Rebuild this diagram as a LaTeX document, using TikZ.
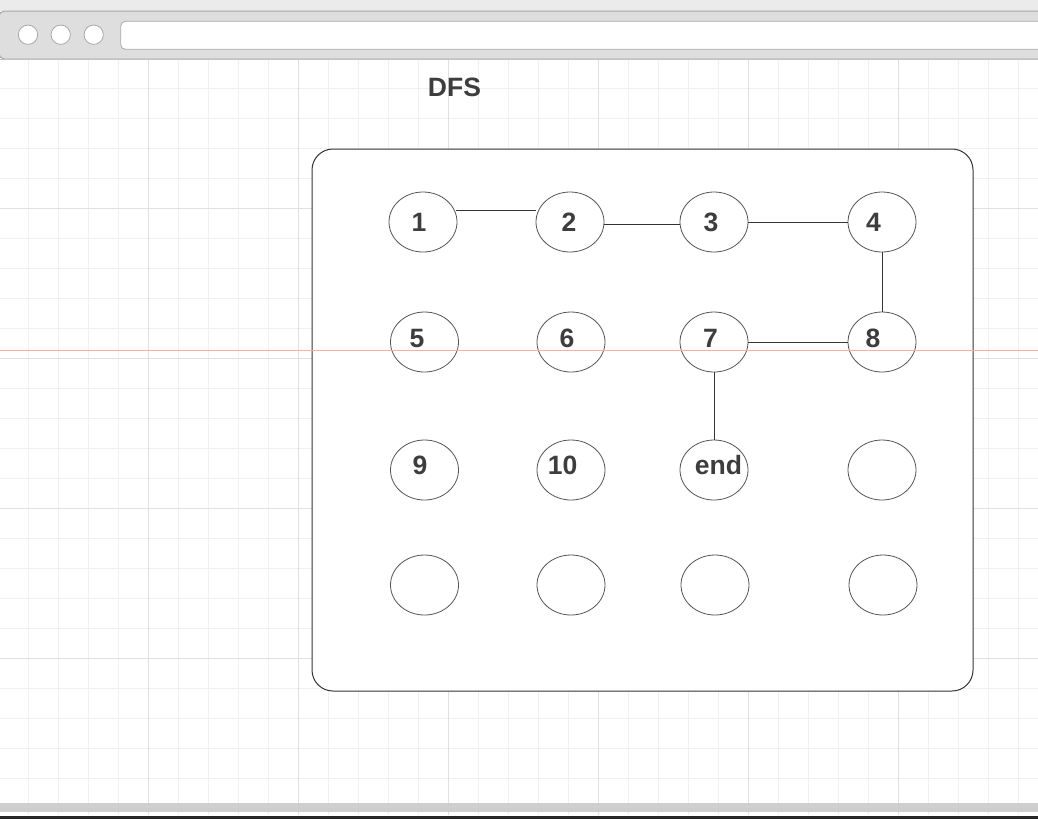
\documentclass[tikz,border=0pt]{standalone}
\usepackage{fontspec}
\setmainfont{Liberation Sans}
\usetikzlibrary{shapes.geometric}
\definecolor{topbg}{HTML}{EBEBEB}
\definecolor{framefill}{HTML}{DEDEDE}
\definecolor{framedraw}{HTML}{A8A8A8}
\definecolor{gridminor}{HTML}{F0F0F0}
\definecolor{gridmajor}{HTML}{E0E0E0}
\definecolor{redline}{HTML}{F9ADA5}
\definecolor{ink}{HTML}{333333}
\definecolor{txt}{HTML}{3D3D3D}
\definecolor{ellcol}{HTML}{555555}
\definecolor{bottombar}{HTML}{CACACA}
\definecolor{darkbar}{HTML}{262626}
\tikzset{
  minorline/.style={draw=gridminor, line width=0.75pt},
  majorline/.style={draw=gridmajor, line width=0.75pt},
  vertex/.style={ellipse, draw=ellcol, fill=white, line width=0.6pt, minimum width=51pt, minimum height=45pt, inner sep=0pt},
  lbl/.style={anchor=base, inner sep=0pt, text=txt, font=\fontsize{19.9pt}{24pt}\selectfont\bfseries},
  edge/.style={draw=ink, line width=0.75pt},
  btn/.style={draw=framedraw, fill=white, line width=0.6pt},
}
\begin{document}
\begin{tikzpicture}[x=0.75pt, y=-0.75pt]
\useasboundingbox (0,0) rectangle (1038,819);
% page background
\fill[white] (0,0) rectangle (1038,819);
% grid
\foreach \x in {28,58,...,1018} \draw[minorline] (\x,59) -- (\x,815);
\foreach \y in {88,118,...,808} \draw[minorline] (0,\y) -- (1038,\y);
\foreach \x in {148,298,...,898} \draw[majorline] (\x,59) -- (\x,815);
\foreach \y in {208,358,...,808} \draw[majorline] (0,\y) -- (1038,\y);
% window frame
\fill[topbg] (0,0) rectangle (1038,11);
\draw[fill=framefill, draw=framedraw, line width=0.75pt, rounded corners=4pt] (-1,11) rectangle (1045,59);
\draw[draw=framedraw!70, line width=0.75pt] (0,59) -- (1038,59);
\node[circle, btn, minimum size=14.5pt, inner sep=0pt] (b1) at (28,34.7) {};
\node[circle, btn, minimum size=14.5pt, inner sep=0pt] (b2) at (60.7,34.7) {};
\node[circle, btn, minimum size=14.5pt, inner sep=0pt] (b3) at (93.7,34.7) {};
\draw[btn, rounded corners=3.5pt] (120.7,21.3) rectangle (1045,49.3);
% bottom bars
\fill[bottombar, opacity=0.9] (0,803) rectangle (1038,812);
\fill[darkbar] (0,816) rectangle (1038,819);
% title
\node[lbl] (title) at (454.5,96) {DFS};
% container
\draw[draw=ink, fill=white, line width=0.75pt, rounded corners=15.75pt] (312,149) rectangle (973,691);
% vertices
\node[vertex] (e1) at (423,222) {};
\node[vertex] (e2) at (570,222) {};
\node[vertex] (e3) at (714,222) {};
\node[vertex] (e4) at (882,222) {};
\node[vertex] (e5) at (424.5,342) {};
\node[vertex] (e6) at (571,342) {};
\node[vertex] (e7) at (714,342) {};
\node[vertex] (e8) at (882,342) {};
\node[vertex] (e9) at (424.5,470) {};
\node[vertex] (e10) at (571,470) {};
\node[vertex] (e11) at (714,470) {};
\node[vertex] (e12) at (882,470) {};
\node[vertex] (e13) at (424.5,585) {};
\node[vertex] (e14) at (571,585) {};
\node[vertex] (e15) at (715,585) {};
\node[vertex] (e16) at (883,585) {};
% labels
\node[lbl] (t1) at (419,231) {1};
\node[lbl] (t2) at (569,231) {2};
\node[lbl] (t3) at (711,231) {3};
\node[lbl] (t4) at (873.5,231) {4};
\node[lbl] (t5) at (417,347) {5};
\node[lbl] (t6) at (567,347) {6};
\node[lbl] (t7) at (710.5,347) {7};
\node[lbl] (t8) at (873,347.5) {8};
\node[lbl] (t9) at (420,474) {9};
\node[lbl] (t10) at (562.5,474) {10};
\node[lbl] (t11) at (718.5,474) {end};
% connectors
\draw[edge] ([xshift=-1pt,yshift=9pt]e1.east) -- ([yshift=9pt]e1.east -| e2.west);
\draw[edge] ([yshift=-1.5pt]e2.east) -- ([yshift=-1.5pt]e2.east -| e3.west);
\draw[edge] (e3.east) -- (e4.west);
\draw[edge] (e4.south) -- (e8.north);
\draw[edge] (e7.east) -- (e8.west);
\draw[edge] (e7.south) -- (e11.north);
% red guide line
\draw[draw=redline, line width=0.75pt] (0,350.3) -- (1038,350.3);
\end{tikzpicture}
\end{document}
